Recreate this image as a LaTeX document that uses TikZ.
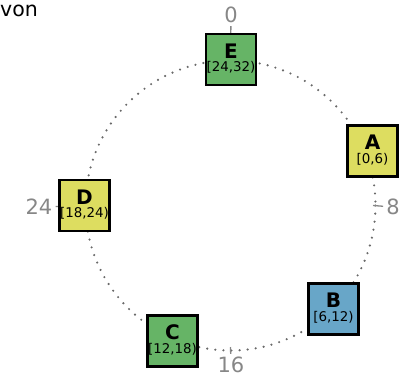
\documentclass[tikz,border=0pt]{standalone}
\usepackage{fontspec}
\setmainfont{DejaVu Sans}
\definecolor{boxgreen}{RGB}{102,180,102}
\definecolor{boxyellow}{RGB}{221,221,96}
\definecolor{boxblue}{RGB}{104,166,200}
\definecolor{ringgray}{RGB}{105,105,105}
\definecolor{labgray}{RGB}{135,135,135}
\newcommand{\boxtext}[2]{\begin{tabular}{@{}c@{}}{\fontsize{20}{20}\selectfont\bfseries #1}\\[0pt]{\fontsize{13.4}{13.4}\selectfont #2}\end{tabular}}
\begin{document}
\begin{tikzpicture}[x=1pt,y=-1pt,
  ring/.style={draw=ringgray,line width=2.4pt,line cap=round,dash pattern=on 0pt off 8.1pt},
  nodebox/.style={draw=black,line width=2.6pt,minimum width=50pt,minimum height=51pt,inner sep=0pt},
  ticklab/.style={text=labgray,font=\fontsize{21}{21}\selectfont,inner sep=1pt},
  tickline/.style={draw=labgray,line width=1.3pt,shorten >=2pt}]
\useasboundingbox (0,0) rectangle (407,376);
\node[anchor=west,inner sep=0pt,font=\fontsize{20.5}{20.5}\selectfont] (title) at (0,11) {von};
% ring
\draw[ring] (230.5,205.5) circle[radius=145];
% ticks and labels
\coordinate (t0) at (230.5,63.5);
\coordinate (t8) at (373,205.5);
\coordinate (t16) at (230.5,347);
\coordinate (t24) at (88.5,205.5);
\node[ticklab] (l0) at (231,15) {0};
\node[ticklab] (l8) at (393,207) {8};
\node[ticklab] (l16) at (231,365) {16};
\node[ticklab] (l24) at (39,207) {24};
\draw[tickline] (t0) -- (l0);
\draw[tickline] (t8) -- (l8);
\draw[tickline] (t16) -- (l16);
\draw[tickline] (t24) -- (l24);
% boxes
\node[nodebox,fill=boxgreen] (E) at (231,59.5) {\boxtext{E}{[24,32)}};
\node[nodebox,fill=boxyellow] (A) at (372.5,151) {\boxtext{A}{[0,6)}};
\node[nodebox,fill=boxblue] (B) at (333.5,309) {\boxtext{B}{[6,12)}};
\node[nodebox,fill=boxgreen] (C) at (172.5,341) {\boxtext{C}{[12,18)}};
\node[nodebox,fill=boxyellow] (D) at (84.5,205.5) {\boxtext{D}{[18,24)}};
\end{tikzpicture}
\end{document}
